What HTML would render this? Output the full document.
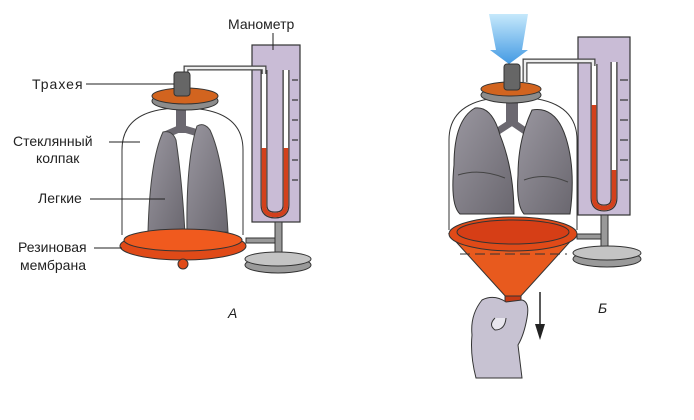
<!DOCTYPE html>
<html><head><meta charset="utf-8"><style>
html,body{margin:0;padding:0;background:#fff;}
svg{display:block;}
text{font-family:"Liberation Sans","DejaVu Sans",sans-serif;font-size:14px;fill:#222;}
</style></head><body>
<svg width="694" height="420" viewBox="0 0 694 420" xmlns="http://www.w3.org/2000/svg">
<defs>
<linearGradient id="blue" x1="0" y1="0" x2="0" y2="1"><stop offset="0" stop-color="#bfe6fb"/><stop offset="1" stop-color="#2f8fe0"/></linearGradient>
<linearGradient id="lung" x1="0" y1="0" x2="1" y2="1"><stop offset="0" stop-color="#9a97a0"/><stop offset="1" stop-color="#6a676f"/></linearGradient>
</defs>

<!-- ===== Panel A ===== -->
<rect x="252" y="45" width="48" height="177" fill="#c9bcd6" stroke="#333" stroke-width="1.2"/>
<g stroke="#333" stroke-width="1.2">
<line x1="292" y1="80" x2="298" y2="80"/><line x1="292" y1="100" x2="298" y2="100"/><line x1="292" y1="120" x2="298" y2="120"/><line x1="292" y1="140" x2="298" y2="140"/><line x1="292" y1="160" x2="298" y2="160"/><line x1="292" y1="180" x2="298" y2="180"/>
</g>
<path d="M264 70 V205 Q264 215 275 215 Q286 215 286 205 V70" fill="none" stroke="#333" stroke-width="7"/>
<path d="M264 70 V205 Q264 215 275 215 Q286 215 286 205 V70" fill="none" stroke="#fff" stroke-width="4.5"/>
<path d="M264 148 V205 Q264 215 275 215 Q286 215 286 205 V148" fill="none" stroke="#d2401c" stroke-width="4.5"/>
<path d="M186 82 V68 H264 V74" fill="none" stroke="#444" stroke-width="5"/>
<path d="M186 82 V68 H264 V74" fill="none" stroke="#eee" stroke-width="2.5"/>
<path d="M122 235 V150 Q122 108 182 108 Q243 108 243 150 V235" fill="none" stroke="#333" stroke-width="1"/>
<rect x="176" y="105" width="10" height="28" fill="#6b6870"/>
<path d="M181 128 L165 135 M181 128 L198 133" stroke="#6b6870" stroke-width="7"/>
<path d="M163 132 Q150 160 148 232 L185 234 Q182 180 176 140 Q172 130 163 132 Z" fill="url(#lung)" stroke="#444"/>
<path d="M197 126 Q186 160 187 232 L228 232 Q224 160 210 130 Q204 122 197 126 Z" fill="url(#lung)" stroke="#444"/>
<ellipse cx="185" cy="101" rx="33" ry="9" fill="#8c8c8c" stroke="#333"/>
<ellipse cx="185" cy="96" rx="33" ry="8" fill="#d2641f" stroke="#333"/>
<rect x="174" y="72" width="16" height="24" rx="3" fill="#666" stroke="#333"/>
<ellipse cx="183" cy="246" rx="63" ry="14" fill="#e04a18" stroke="#333"/>
<ellipse cx="183" cy="240" rx="59" ry="11" fill="#f05a1e" stroke="#333"/>
<circle cx="183" cy="264" r="5" fill="#e04a18" stroke="#333"/>
<rect x="246" y="238" width="30" height="5" fill="#999" stroke="#333"/>
<rect x="275" y="222" width="7" height="38" fill="#999" stroke="#333"/>
<ellipse cx="278" cy="265" rx="33" ry="8" fill="#9a9a9a" stroke="#333"/>
<ellipse cx="278" cy="259" rx="33" ry="7" fill="#c4c4c4" stroke="#333"/>
<text x="228" y="29" font-size="15">Манометр</text>
<line x1="273" y1="33" x2="273" y2="50" stroke="#222"/>
<text x="32" y="89" letter-spacing="1">Трахея</text>
<line x1="86" y1="84" x2="174" y2="84" stroke="#222"/>
<text x="13" y="146">Стеклянный</text>
<text x="36" y="163">колпак</text>
<line x1="109" y1="142" x2="140" y2="142" stroke="#222"/>
<text x="38" y="203">Легкие</text>
<line x1="90" y1="199" x2="165" y2="199" stroke="#222"/>
<text x="18" y="252">Резиновая</text>
<text x="20" y="270">мембрана</text>
<line x1="94" y1="248" x2="122" y2="248" stroke="#222"/>
<text x="228" y="318" font-style="italic" font-family="Liberation Serif,serif">A</text>

<!-- ===== Panel B ===== -->
<polygon points="489,14 528,14 522,50 528,50 509,64 490,50 496,50" fill="url(#blue)" opacity="0.9"/>
<rect x="578" y="37" width="52" height="178" fill="#c9bcd6" stroke="#333" stroke-width="1.2"/>
<g stroke="#333" stroke-width="1.2">
<line x1="620" y1="80" x2="628" y2="80"/><line x1="620" y1="100" x2="628" y2="100"/><line x1="620" y1="120" x2="628" y2="120"/><line x1="620" y1="140" x2="628" y2="140"/><line x1="620" y1="160" x2="628" y2="160"/><line x1="620" y1="180" x2="628" y2="180"/>
</g>
<path d="M594 64 V198 Q594 208 604 208 Q614 208 614 198 V62" fill="none" stroke="#333" stroke-width="7"/>
<path d="M594 64 V198 Q594 208 604 208 Q614 208 614 198 V62" fill="none" stroke="#fff" stroke-width="4.5"/>
<path d="M594 105 V198 Q594 208 604 208 Q614 208 614 198 V170" fill="none" stroke="#d2401c" stroke-width="4.5"/>
<path d="M525 82 V61 H593 V66" fill="none" stroke="#444" stroke-width="5"/>
<path d="M525 82 V61 H593 V66" fill="none" stroke="#eee" stroke-width="2.5"/>
<path d="M449 230 V140 Q449 97 513 97 Q577 97 577 140 V230" fill="none" stroke="#333" stroke-width="1"/>
<rect x="506" y="100" width="12" height="25" fill="#6b6870"/>
<path d="M512 122 L495 133 M512 122 L528 133" stroke="#6b6870" stroke-width="7"/>
<path d="M475 108 Q454 120 454 165 Q450 205 460 214 L514 214 Q514 170 500 135 Q492 106 475 108 Z" fill="url(#lung)" stroke="#333"/>
<path d="M532 110 Q518 140 518 175 Q516 205 524 214 L570 214 Q576 170 566 138 Q556 106 532 110 Z" fill="url(#lung)" stroke="#333"/>
<path d="M458 175 Q480 168 505 178 M524 180 Q545 172 568 182" fill="none" stroke="#444"/>
<ellipse cx="511" cy="95" rx="30" ry="8" fill="#8c8c8c" stroke="#333"/>
<ellipse cx="511" cy="89" rx="30" ry="7" fill="#d2641f" stroke="#333"/>
<rect x="504" y="64" width="16" height="26" rx="3" fill="#666" stroke="#333"/>
<path d="M449 234 L507 298 L519 298 L577 234 Z" fill="#e85a1e" stroke="#333"/>
<ellipse cx="513" cy="234" rx="64" ry="17" fill="#e04a18" stroke="#333"/>
<ellipse cx="513" cy="232" rx="56" ry="12" fill="#d63e16" stroke="#333"/>
<rect x="505" y="296" width="16" height="13" fill="#c63a14" stroke="#333"/>
<line x1="460" y1="254" x2="567" y2="254" stroke="#333" stroke-dasharray="10,5"/>
<path d="M482 300 Q494 294 506 302 L522 300 Q530 302 527 318 Q524 335 518 345 L522 378 L476 378 Q470 355 472 335 Q470 315 482 300 Z" fill="#c7c2d2" stroke="#333"/>
<path d="M495 318 Q488 325 495 330 Q505 330 506 318" fill="#e8e6ee" stroke="#333"/>
<line x1="540" y1="292" x2="540" y2="330" stroke="#222" stroke-width="1.5"/>
<polygon points="535,324 545,324 540,340" fill="#222"/>
<rect x="577" y="234" width="28" height="5" fill="#999" stroke="#333"/>
<rect x="601" y="215" width="7" height="35" fill="#999" stroke="#333"/>
<ellipse cx="607" cy="259" rx="34" ry="8" fill="#9a9a9a" stroke="#333"/>
<ellipse cx="607" cy="253" rx="34" ry="7" fill="#c4c4c4" stroke="#333"/>
<text x="598" y="313" font-style="italic" font-family="Liberation Serif,serif">Б</text>
</svg>
</body></html>
